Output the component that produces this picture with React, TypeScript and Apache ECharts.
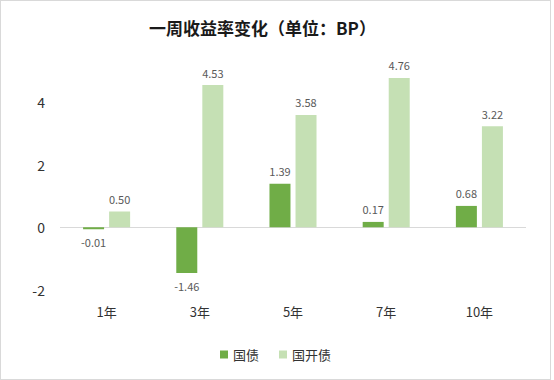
import React, { useEffect, useRef } from "react";
import * as echarts from "echarts";

const categories = ["1年", "3年", "5年", "7年", "10年"];
const guozhai = [-0.01, -1.46, 1.39, 0.17, 0.68];
const guokaizhai = [0.5, 4.53, 3.58, 4.76, 3.22];
const seriesNames = ["国债", "国开债"];
const colors = ["#70AD47", "#C5E0B4"];

const font = "'Noto Sans CJK SC', 'Noto Sans', sans-serif";

function toData(vals: number[]) {
  return vals.map((v) => ({
    value: v,
    label: { position: v < 0 ? "bottom" : "top" },
  }));
}

export default function App() {
  const ref = useRef<HTMLDivElement>(null);
  useEffect(() => {
    document.body.style.margin = "0";
    const chart = echarts.init(ref.current!, null, { renderer: "svg" });
    const labelCfg = {
      show: true,
      fontSize: 11,
      color: "#595959",
      fontFamily: font,
      distance: 7,
      formatter: (p: any) => Number(p.value).toFixed(2),
    };
    chart.setOption({
      animation: false,
      textStyle: { fontFamily: font },
      title: {
        text: "一周收益率变化（单位：BP）",
        left: 143,
        top: 13,
        textStyle: { fontSize: 17, fontWeight: "bold", color: "#1a1a1a", fontFamily: font },
      },
      legend: {
        bottom: 13,
        left: "center",
        itemWidth: 8,
        itemHeight: 8,
        itemGap: 20,
        icon: "rect",
        textStyle: { fontSize: 13, color: "#333", fontFamily: font },
        data: seriesNames,
      },
      grid: { left: 59, right: 24, top: 38, bottom: 89, containLabel: false },
      xAxis: {
        type: "category",
        data: categories,
        axisLine: { show: false, onZero: false },
        axisTick: { show: false },
        axisLabel: { fontSize: 13, color: "#333", margin: 15, fontFamily: font },
      },
      yAxis: {
        type: "value",
        min: -2,
        max: 6,
        interval: 2,
        splitLine: { show: false },
        axisLine: { show: false },
        axisTick: { show: false },
        axisLabel: {
          fontSize: 14,
          color: "#333",
          margin: 15,
          fontFamily: font,
          showMaxLabel: false,
        },
      },
      series: [
        {
          name: seriesNames[0],
          type: "bar",
          data: toData(guozhai),
          itemStyle: { color: colors[0] },
          barWidth: 21,
          barGap: "24%",
          barMinHeight: 2,
          label: labelCfg,
          markLine: {
            silent: true,
            symbol: "none",
            z: 1,
            label: { show: false },
            lineStyle: { color: "#d9d9d9", type: "solid", width: 1 },
            data: [{ yAxis: 0 }],
          },
          z: 3,
        },
        {
          name: seriesNames[1],
          type: "bar",
          data: toData(guokaizhai),
          itemStyle: { color: colors[1] },
          barWidth: 21,
          barGap: "24%",
          label: labelCfg,
          z: 3,
        },
      ],
    });
    return () => chart.dispose();
  }, []);
  return (
    <div
      style={{
        width: 551,
        height: 380,
        border: "1px solid #d9d9d9",
        boxSizing: "border-box",
        background: "#fff",
      }}
    >
      <div ref={ref} style={{ width: 549, height: 378 }} />
    </div>
  );
}
